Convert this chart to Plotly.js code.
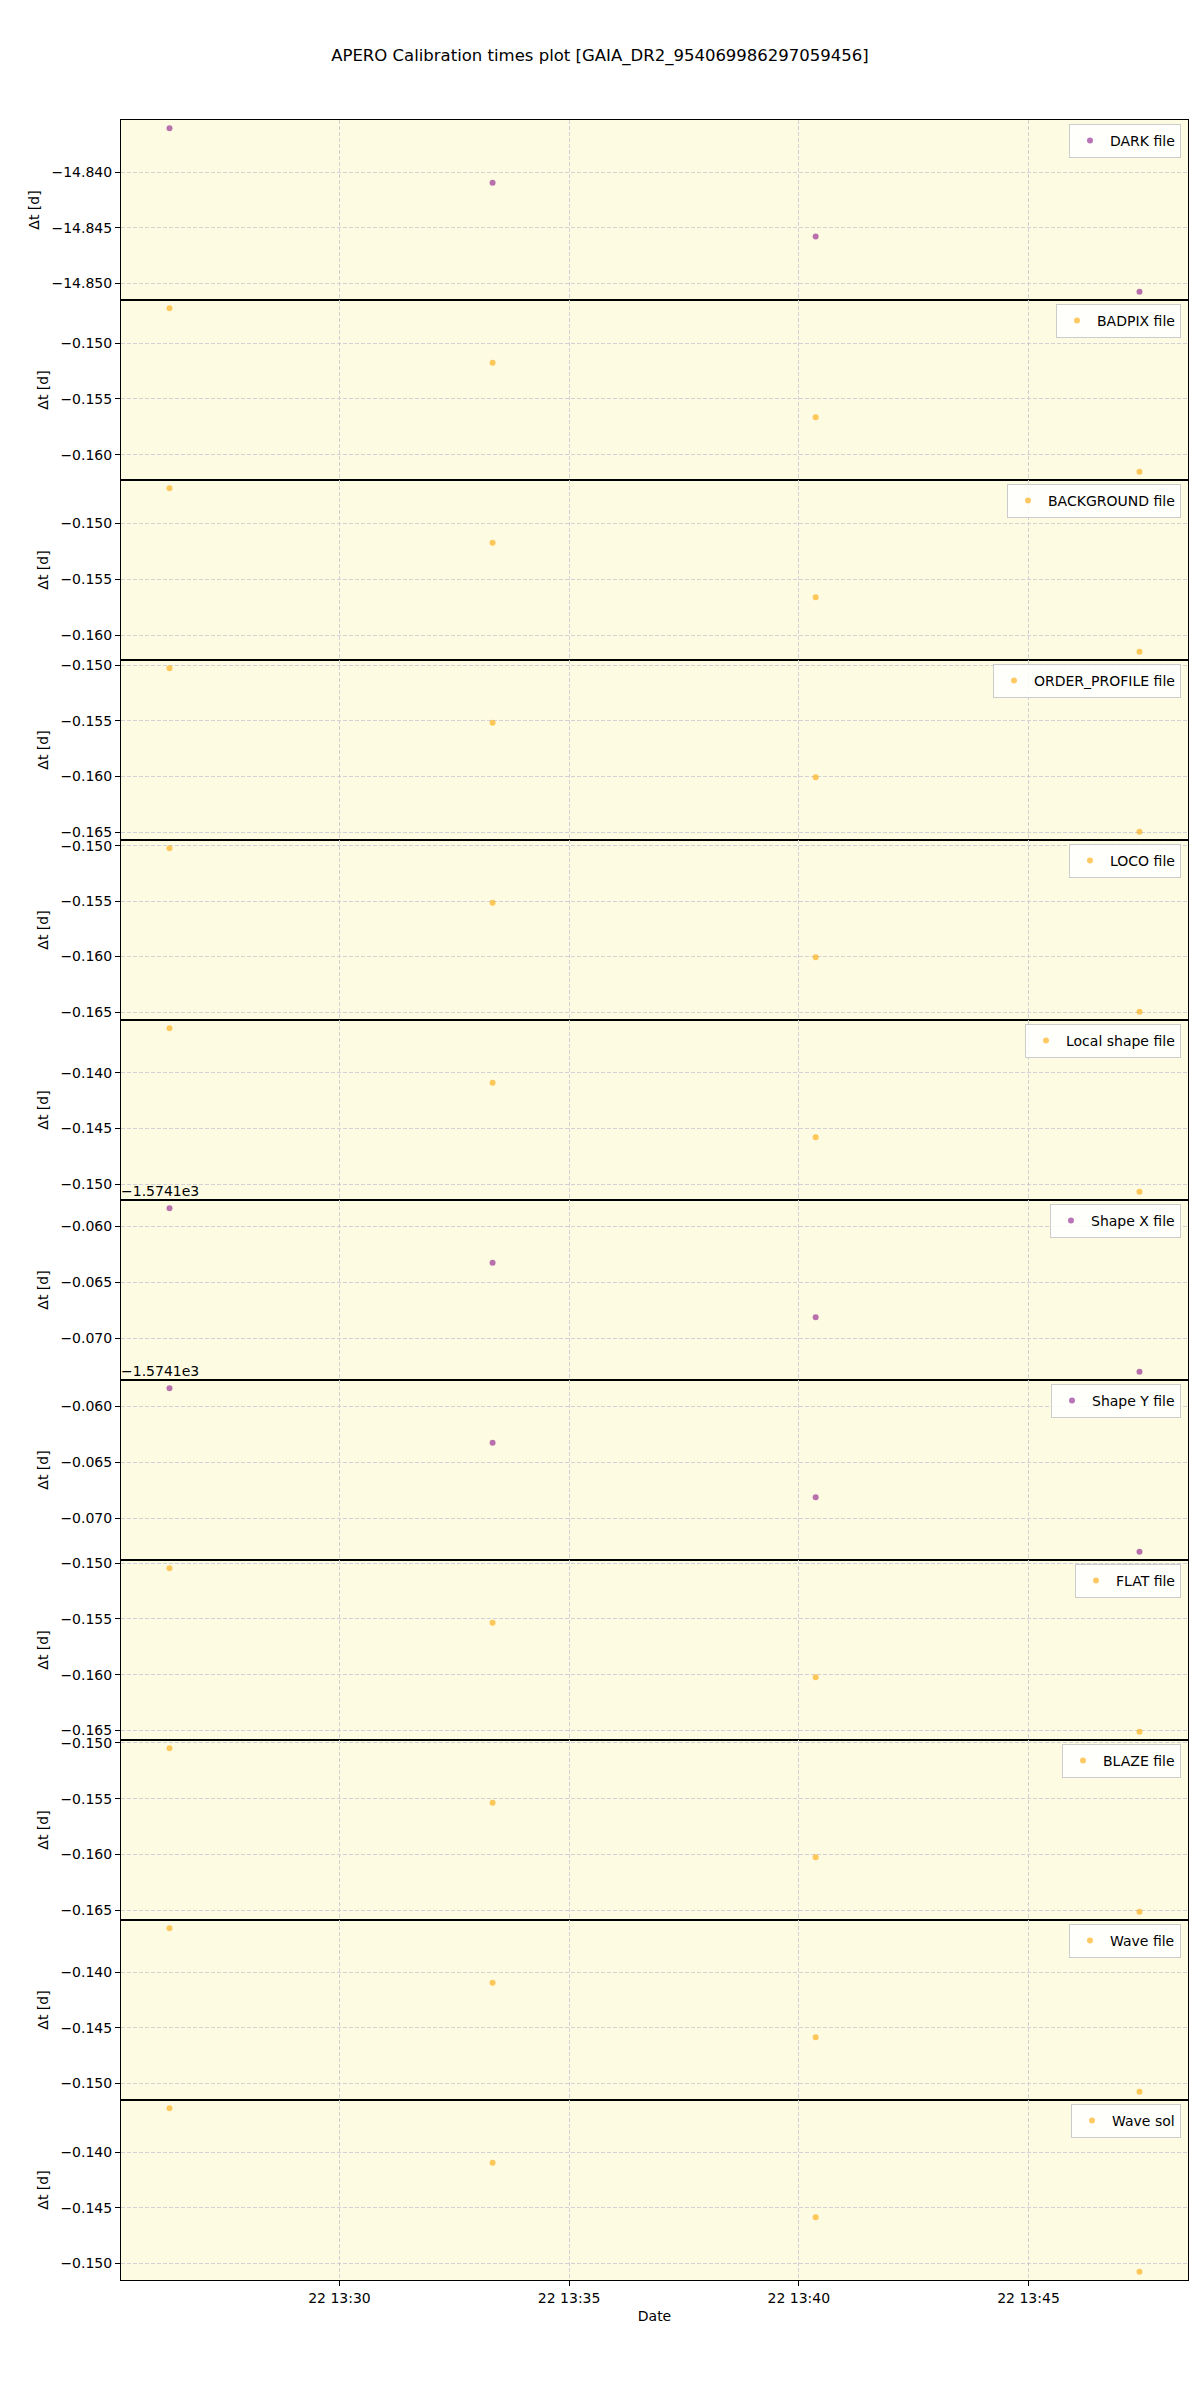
<!DOCTYPE html>
<html>
<head>
<meta charset="utf-8">
<script src="https://cdn.plot.ly/plotly-3.0.1.min.js"></script>
<style>body{margin:0;background:#fff;}</style>
</head>
<body>
<div id="chart" style="width:1200px;height:2400px;"></div>
<script>
// ---- data ----
const times = ['2023-05-22 13:26:18', '2023-05-22 13:33:20', '2023-05-22 13:40:22', '2023-05-22 13:47:25'];
const labels = ['DARK file', 'BADPIX file', 'BACKGROUND file', 'ORDER_PROFILE file', 'LOCO file',
                'Local shape file', 'Shape X file', 'Shape Y file', 'FLAT file', 'BLAZE file',
                'Wave file', 'Wave sol'];
const colorKeys = ['purple', 'orange', 'orange', 'orange', 'orange', 'orange',
                   'purple', 'purple', 'orange', 'orange', 'orange', 'orange'];
const darkVals        = [-14.83605, -14.84096, -14.84581, -14.85078];
const badpixVals      = [-0.14687, -0.15176, -0.15664, -0.16152];
const backgroundVals  = [-0.14687, -0.15175, -0.15663, -0.16150];
const orderProfVals   = [-0.15027, -0.15517, -0.16007, -0.16497];
const locoVals        = [-0.15023, -0.15515, -0.16006, -0.16498];
const localShapeVals  = [-0.13601, -0.14091, -0.14580, -0.15069];
const shapeXVals      = [-1574.15835, -1574.16324, -1574.16813, -1574.17303];
const shapeYVals      = [-1574.15835, -1574.16324, -1574.16813, -1574.17303];
const flatVals        = [-0.15045, -0.15534, -0.16023, -0.16513];
const blazeVals       = [-0.15048, -0.15537, -0.16025, -0.16513];
const waveFileVals    = [-0.13605, -0.14096, -0.14587, -0.15078];
const waveSolVals     = [-0.13605, -0.14096, -0.14587, -0.15078];
const shapeOffset = -1574.1;
const shapeOffsetLabel = '\u22121.5741e3';
const shapeTickLabels = [-0.060, -0.065, -0.070];
const xTickStart = '2023-05-22 13:30:00';

const series = [darkVals, badpixVals, backgroundVals, orderProfVals, locoVals, localShapeVals,
                shapeXVals, shapeYVals, flatVals, blazeVals, waveFileVals, waveSolVals];

// ---- style ----
const FONT = 'DejaVu Sans, Liberation Sans, sans-serif';
const COLORS = {purple: 'rgba(128,0,128,0.55)', orange: 'rgba(255,165,0,0.6)'};
const N = series.length;
const plotH = 2160, plotW = 1067;
const gridCol = '#d2d2d6';

function fmt(v) {
  const s = Math.abs(v).toFixed(3);
  return (v < 0 ? '\u2212' : '') + s;
}

const data = [];
const layout = {
  width: 1200, height: 2400,
  margin: {l: 121, r: 12, t: 120, b: 120},
  paper_bgcolor: '#ffffff',
  plot_bgcolor: '#fdfbe2',
  font: {family: FONT, size: 14, color: '#000'},
  title: {text: 'APERO Calibration times plot [GAIA_DR2_954069986297059456]',
          font: {family: FONT, size: 16.5, color: '#000'},
          x: 0.5, xanchor: 'center', y: 1 - 55 / 2400, yanchor: 'middle'},
  annotations: [],
  showlegend: true
};

// x-range with matplotlib-like 5% margin
const tms = times.map(t => new Date(t.replace(' ', 'T')).getTime());
const tmin = Math.min(...tms), tmax = Math.max(...tms);
const tpad = (tmax - tmin) * 0.05;
function isoLocal(ms) {
  const d = new Date(ms);
  const p = n => String(n).padStart(2, '0');
  return d.getFullYear() + '-' + p(d.getMonth() + 1) + '-' + p(d.getDate()) + ' ' +
         p(d.getHours()) + ':' + p(d.getMinutes()) + ':' + p(d.getSeconds()) + '.' +
         String(d.getMilliseconds()).padStart(3, '0');
}
const xRange = [isoLocal(tmin - tpad), isoLocal(tmax + tpad)];

for (let k = 0; k < N; k++) {
  const n = k + 1;
  const sfx = n === 1 ? '' : String(n);
  const vals = series[k];
  const top = 1 - k / N, bot = 1 - (k + 1) / N;
  const legName = 'legend' + sfx;

  data.push({
    type: 'scatter', mode: 'markers',
    x: times, y: vals,
    xaxis: 'x' + sfx, yaxis: 'y' + sfx,
    name: labels[k],
    legend: legName,
    marker: {color: COLORS[colorKeys[k]], size: 6, line: {width: 0}},
    hoverinfo: 'x+y'
  });

  const isBottom = (k === N - 1);
  layout['xaxis' + sfx] = {
    type: 'date', anchor: 'y' + sfx,
    domain: [0, 1],
    range: xRange,
    matches: n === 1 ? undefined : 'x',
    tick0: xTickStart, dtick: 300000,
    tickformat: '%d %H:%M',
    showticklabels: isBottom,
    ticks: isBottom ? 'outside' : '',
    ticklen: 5, tickcolor: '#000', tickwidth: 1,
    tickfont: {family: FONT, size: 14, color: '#000'},
    showgrid: true, gridcolor: gridCol, gridwidth: 1, griddash: '4px,2px',
    showline: true, linecolor: '#000', linewidth: 1, mirror: true,
    zeroline: false,
    title: isBottom ? {text: 'Date', font: {family: FONT, size: 14, color: '#000'}, standoff: 6} : {text: ''}
  };

  const vmin = Math.min(...vals), vmax = Math.max(...vals);
  const pad = (vmax - vmin) * 0.05;
  const yax = {
    anchor: 'x' + sfx,
    domain: [bot, top],
    range: [vmin - pad, vmax + pad],
    ticks: 'outside', ticklen: 5, tickcolor: '#000', tickwidth: 1,
    tickfont: {family: FONT, size: 14, color: '#000'},
    showgrid: true, gridcolor: gridCol, gridwidth: 1, griddash: '4px,2px',
    showline: true, linecolor: '#000', linewidth: 1, mirror: true,
    zeroline: false,
    title: {text: '\u0394t [d]', font: {family: FONT, size: 14, color: '#000'}, standoff: 8}
  };
  if (vmin < -1000) {
    yax.tickmode = 'array';
    yax.tickvals = shapeTickLabels.map(v => shapeOffset + v);
    yax.ticktext = shapeTickLabels.map(fmt);
    layout.annotations.push({
      text: shapeOffsetLabel, xref: 'paper', yref: 'paper',
      x: 0, y: top, xanchor: 'left', yanchor: 'bottom', yshift: -1, xshift: -2,
      showarrow: false, font: {family: FONT, size: 14, color: '#000'}
    });
  } else {
    yax.tick0 = 0; yax.dtick = 0.005;
    yax.tickformat = '.3f';
  }
  layout['yaxis' + sfx] = yax;

  layout[legName] = {
    x: 1 - 7 / plotW, xanchor: 'right',
    y: top - 4 / plotH, yanchor: 'top',
    bgcolor: 'rgba(255,255,255,0.85)', bordercolor: '#cccccc', borderwidth: 1,
    font: {family: FONT, size: 14, color: '#000'},
    itemclick: false
  };
}

Plotly.newPlot('chart', data, layout, {staticPlot: true, displayModeBar: false});
</script>
</body>
</html>
